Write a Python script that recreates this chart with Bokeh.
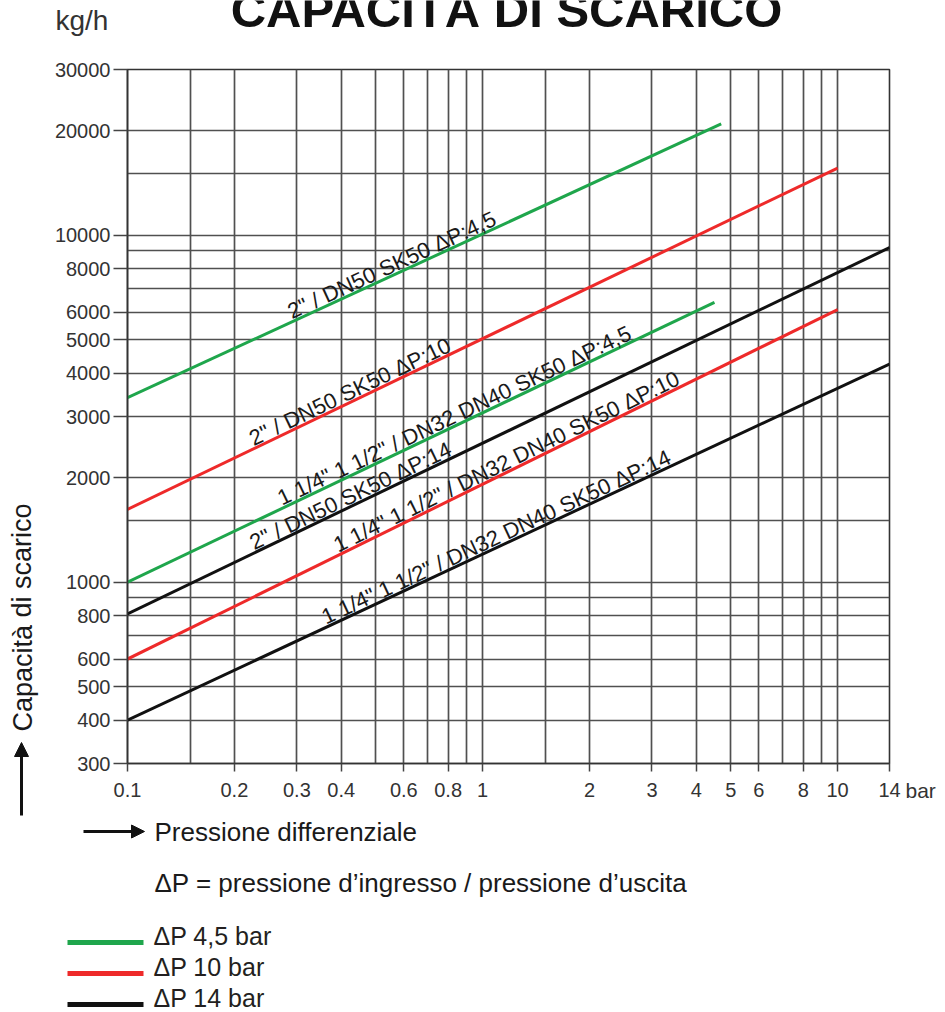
import math
from bokeh.plotting import figure
from bokeh.layouts import row, column
from bokeh.models import (Range1d, FixedTicker, CustomJSTickFormatter, Arrow,
                          NormalHead, ColumnDataSource)
from bokeh.core.properties import value
from bokeh.embed import file_html
from bokeh.resources import INLINE

# ---------------- data ----------------
series_names = [
    '2" / DN50 SK50 \u0394P:4,5',
    '2" / DN50 SK50 \u0394P:10',
    '2" / DN50 SK50 \u0394P:14',
    '1 1/4" 1 1/2" / DN32 DN40 SK50 \u0394P:4,5',
    '1 1/4" 1 1/2" / DN32 DN40 SK50 \u0394P:10',
    '1 1/4" 1 1/2" / DN32 DN40 SK50 \u0394P:14',
]
series_dp = ["4,5", "10", "14", "4,5", "10", "14"]
pressure_start = [0.1, 0.1, 0.1, 0.1, 0.1, 0.1]
pressure_end = [4.7, 10, 14, 4.5, 10, 14]
capacity_start = [3400, 1620, 810, 1000, 600, 400]
capacity_end = [20900, 15600, 9200, 6400, 6100, 4250]
label_pressure = [0.574, 0.438, 0.44, 0.862, 1.21, 1.13]

x_ticks = [0.1, 0.2, 0.3, 0.4, 0.6, 0.8, 1, 2, 3, 4, 5, 6, 8, 10, 14]
x_grid = [0.1, 0.15, 0.2, 0.3, 0.4, 0.5, 0.6, 0.7, 0.8, 0.9, 1, 1.5, 2, 3, 4, 5,
          6, 7, 8, 9, 10, 14]
y_ticks = [300, 400, 500, 600, 800, 1000, 2000, 3000, 4000, 5000, 6000, 8000,
           10000, 20000, 30000]
y_grid = [300, 400, 500, 600, 700, 800, 900, 1000, 1500, 2000, 3000, 4000, 5000,
          6000, 7000, 8000, 9000, 10000, 15000, 20000, 30000]

legend_dp = ["4,5", "10", "14"]
legend_labels = ["\u0394P 4,5 bar", "\u0394P 10 bar", "\u0394P 14 bar"]

title_text = "CAPACIT\u00c0 DI SCARICO"
y_unit = "kg/h"
x_unit = "bar"
y_title = "Capacit\u00e0 di scarico"
x_title = "Pressione differenziale"
note_text = "\u0394P = pressione d\u2019ingresso / pressione d\u2019uscita"

# ---------------- styles ----------------
COLORS = {"4,5": "#1fa64c", "10": "#ee2a2a", "14": "#111111"}
FONT = "Liberation Sans"
TOTAL_W, TOTAL_H = 945, 1012
TOP_H = 58
LEFT_W = 50
BAR_W = 43
MAIN_W = TOTAL_W - LEFT_W - BAR_W          # 852
MAIN_H = 750
BOTTOM_H = TOTAL_H - TOP_H - MAIN_H        # 204
ML, MR, MT, MB = 77, 13, 11, 45
X0, X1, Y0, Y1 = 0.1, 14, 300, 30000


def blank(w, h, x0, x1, y0, y1):
    f = figure(width=w, height=h, x_range=Range1d(x0, x1), y_range=Range1d(y0, y1),
               output_backend="svg", toolbar_location=None, min_border=0,
               x_axis_location=None, y_axis_location=None, title=None)
    f.grid.visible = False
    f.outline_line_color = None
    f.background_fill_color = "white"
    f.border_fill_color = "white"
    f.frame_align = False
    return f


def put_text(f, x, y, txt, size, align="left", color="#1a1a1a", style="normal",
             angle=0.0):
    f.text(x=[x], y=[y], text=[txt], angle=[angle], text_align=align,
           text_baseline="middle", text_font=value(FONT), text_font_style=style,
           text_font_size=size, text_color=color)


# ---------------- main chart ----------------
p = figure(width=MAIN_W, height=MAIN_H, x_axis_type="log", y_axis_type="log",
           x_range=Range1d(X0, X1), y_range=Range1d(Y0, Y1), title=None,
           output_backend="svg", toolbar_location=None,
           min_border_left=ML, min_border_right=MR,
           min_border_top=MT, min_border_bottom=MB)
p.frame_align = False
p.background_fill_color = "white"
p.border_fill_color = "white"
p.outline_line_color = "#333333"
p.outline_line_width = 1.6

p.xgrid.ticker = FixedTicker(ticks=x_grid)
p.ygrid.ticker = FixedTicker(ticks=y_grid)
for g in (p.xgrid, p.ygrid):
    g.grid_line_color = "#505050"
    g.grid_line_width = 1.7
    g.grid_line_alpha = 1.0

fmt = CustomJSTickFormatter(code="return String(tick);")
p.xaxis.ticker = FixedTicker(ticks=x_ticks)
p.yaxis.ticker = FixedTicker(ticks=y_ticks)
for ax in (p.xaxis, p.yaxis):
    ax.formatter = fmt
    ax.axis_line_color = "#333333"
    ax.axis_line_width = 1.6
    ax.major_label_text_font = FONT
    ax.major_label_text_font_size = "20px"
    ax.major_label_text_color = "#333333"
    ax.minor_tick_line_color = None
    ax.major_tick_line_color = "#444444"
    ax.major_tick_line_width = 1.5
    ax.major_tick_in = 0
p.xaxis.major_tick_out = 8
p.xaxis.major_label_standoff = 11
p.yaxis.major_tick_out = 14
p.yaxis.major_label_standoff = 3

for i in range(len(series_names)):
    p.line(x=[pressure_start[i], pressure_end[i]],
           y=[capacity_start[i], capacity_end[i]],
           line_color=COLORS[series_dp[i]], line_width=3)

ppd_x = (MAIN_W - ML - MR) / (math.log10(X1) - math.log10(X0))
ppd_y = (MAIN_H - MT - MB) / (math.log10(Y1) - math.log10(Y0))
lab_x, lab_y, lab_a = [], [], []
for i in range(len(series_names)):
    lx0, lx1 = math.log10(pressure_start[i]), math.log10(pressure_end[i])
    ly0, ly1 = math.log10(capacity_start[i]), math.log10(capacity_end[i])
    slope = (ly1 - ly0) / (lx1 - lx0)
    lx = math.log10(label_pressure[i])
    lab_x.append(label_pressure[i])
    lab_y.append(10 ** (ly0 + (lx - lx0) * slope))
    lab_a.append(math.atan(slope * ppd_y / ppd_x))
src = ColumnDataSource(dict(x=lab_x, y=lab_y, text=series_names, angle=lab_a))
p.text(x="x", y="y", text="text", angle="angle", source=src,
       text_font=value(FONT), text_font_size="22px", text_color="#1a1a1a",
       text_align="center", text_baseline="bottom", y_offset=3)

# ---------------- top strip: title + unit ----------------
top = blank(TOTAL_W, TOP_H, 0, TOTAL_W, TOP_H, 0)
put_text(top, 506, 9, title_text, "49px", align="center", color="#111111",
         style="bold")
put_text(top, 55, 20, y_unit, "28px", color="#333333")

# ---------------- left strip: y title + arrow ----------------
left = blank(LEFT_W, TOTAL_H - TOP_H, 0, LEFT_W, TOTAL_H, TOP_H)
put_text(left, 22, 617, y_title, "27px", align="center", angle=math.pi / 2)
left.add_layout(Arrow(x_start=21, y_start=815, x_end=21, y_end=742,
                      line_color="#111111", line_width=3,
                      end=NormalHead(size=14, fill_color="#111111",
                                     line_color="#111111")))

# ---------------- right strip: x unit ----------------
bar = blank(BAR_W, MAIN_H, TOTAL_W - BAR_W, TOTAL_W, TOP_H + MAIN_H, TOP_H)
put_text(bar, 905, 790, x_unit, "21px", color="#333333")

# ---------------- bottom strip: x title, note, legend ----------------
bot = blank(TOTAL_W - LEFT_W, BOTTOM_H, LEFT_W, TOTAL_W, TOTAL_H, TOP_H + MAIN_H)
bot.add_layout(Arrow(x_start=83, y_start=831, x_end=144, y_end=831,
                     line_color="#111111", line_width=3,
                     end=NormalHead(size=13, fill_color="#111111",
                                    line_color="#111111")))
put_text(bot, 154, 831, x_title, "26px")
put_text(bot, 154, 882, note_text, "26px")

# legend (swatch + label per pressure class)
legend_rows_y = [942, 973, 1004]
for dp, txt, ry in zip(legend_dp, legend_labels, legend_rows_y):
    bot.line(x=[67, 143], y=[ry, ry], line_color=COLORS[dp], line_width=5)
    put_text(bot, 153, ry - 7, txt, "25px", color="#231f20")

layout = column(top,
                row(left, column(row(p, bar, spacing=0), bot, spacing=0), spacing=0),
                spacing=0)

open("out.html", "w").write(file_html(layout, INLINE))
